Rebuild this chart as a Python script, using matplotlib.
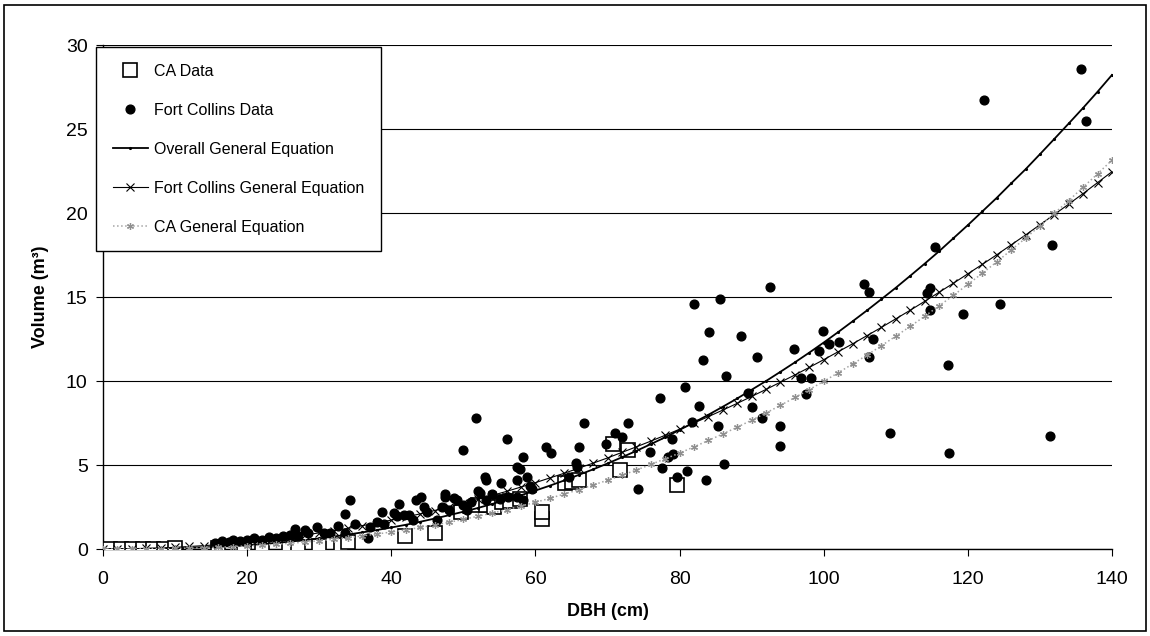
import matplotlib
matplotlib.use("Agg")
import matplotlib.pyplot as plt
from matplotlib.patches import Rectangle

plt.rcParams['font.family'] = ['Liberation Sans', 'DejaVu Sans']

# CA measured trees
ca_dbh = [1, 2.5, 4, 5.5, 7, 8.5, 10, 16, 19.5, 22, 25.8, 27.1, 30, 33, 34,
          41.9, 46, 49.7, 52, 53.2, 54.2, 55.3, 56.5, 57.8, 60.9, 60.9,
          64.1, 65.1, 66, 70.7, 71.8, 72.8, 79.6]
ca_vol = [0.0, 0.0, 0.01, 0.01, 0.02, 0.02, 0.03, 0.05, 0.1, 0.1, 0.1, 0.14, 0.2, 0.25, 0.43,
          0.8, 0.95, 2.2, 2.6, 2.6, 2.5, 2.82, 2.85, 3.0, 1.8, 2.2,
          3.9, 4.0, 4.1, 6.25, 4.7, 5.9, 3.8]

# Fort Collins measured trees
fc_dbh = [15.5, 16.5, 17.5, 18, 19, 20, 21, 22, 23, 24, 25, 26, 26.6, 27, 28, 28.5,
          29.7, 30.6, 31.5, 32.6, 33.6, 33.6, 34.3, 35, 36.7, 37, 38, 38.7, 39,
          40.4, 40.8, 41.1, 41.8, 42.4, 43, 43.4, 44.1, 44.6, 45, 46.3, 47, 47.4,
          47.5, 48, 48.7, 49.1, 49.9, 50, 50.5, 51, 51.7, 52.1, 52.3, 53, 53.2,
          53.2, 54, 55.1, 55.2, 56.1, 56.2, 57.4, 57.9, 57.4, 57.4, 58.3, 58.3,
          58.8, 59.2, 59.5, 61.4, 62.2, 64.6, 65.6, 65.7, 66.1, 66.8, 69.8, 71,
          72, 72.8, 74.2, 75.9, 77.3, 77.6, 78.4, 79, 79.1, 79.6, 80.7, 81, 81.7,
          82, 82.7, 83.3, 83.7, 84.1, 85.4, 85.6, 86.1, 86.4, 88.5, 89.5, 90.1,
          90.8, 91.5, 92.5, 94, 94, 95.9, 96.9, 97.6, 98.2, 99.3, 99.9, 100.7,
          102.1, 105.6, 106.3, 106.3, 106.9, 109.2, 114.3, 114.7, 114.7, 115.5,
          117.3, 117.4, 119.3, 122.3, 124.4, 131.4, 131.7, 135.7, 136.4]
fc_vol = [0.35, 0.45, 0.4, 0.55, 0.5, 0.55, 0.65, 0.55, 0.7, 0.65, 0.75, 0.85, 1.17, 0.8, 1.13, 0.95,
          1.33, 0.93, 0.97, 1.37, 0.93, 2.07, 2.9, 1.5, 0.67, 1.3, 1.6, 2.2, 1.5,
          2.12, 1.96, 2.7, 2.0, 2.0, 1.7, 2.9, 3.1, 2.5, 2.2, 1.73, 2.5, 3.3,
          3.1, 2.3, 3.05, 2.9, 5.9, 2.6, 2.3, 2.8, 7.8, 3.47, 3.35, 4.27, 4.1,
          2.9, 3.3, 2.96, 3.95, 6.55, 3.1, 4.9, 4.75, 4.1, 3.1, 2.9, 5.5,
          4.3, 3.75, 3.55, 6.1, 5.7, 4.3, 5.14, 4.9, 6.05, 7.5, 6.23, 6.9,
          6.65, 7.5, 3.6, 5.8, 8.97, 4.84, 5.5, 6.53, 5.65, 4.27, 9.66, 4.64, 7.54,
          14.6, 8.5, 11.25, 4.1, 12.9, 7.3, 14.9, 5.04, 10.3, 12.7, 9.3, 8.47,
          11.4, 7.78, 15.6, 7.34, 6.13, 11.9, 10.2, 9.2, 10.2, 11.8, 13.0, 12.2,
          12.3, 15.8, 15.3, 11.4, 12.5, 6.9, 15.26, 15.55, 14.2, 18.0,
          10.97, 5.7, 14.0, 26.7, 14.6, 6.7, 18.1, 28.55, 25.5]

# equation curves, read every 2 cm
eq_dbh = list(range(0, 141, 2))
overall_vol = [0.0, 0.0, 0.0, 0.01, 0.02, 0.04, 0.07, 0.1, 0.13, 0.18, 0.23, 0.29, 0.36, 0.44, 0.53,
               0.63, 0.74, 0.86, 0.99, 1.13, 1.28, 1.44, 1.62, 1.81, 2.01, 2.22, 2.44, 2.68,
               2.94, 3.2, 3.48, 3.77, 4.08, 4.41, 4.74, 5.09, 5.46, 5.84, 6.24, 6.65, 7.09,
               7.53, 7.99, 8.47, 8.96, 9.48, 10.0, 10.55, 11.11, 11.69, 12.29, 12.91, 13.55,
               14.2, 14.87, 15.55, 16.26, 16.98, 17.72, 18.5, 19.28, 20.09, 20.9, 21.76,
               22.6, 23.5, 24.41, 25.33, 26.26, 27.22, 28.22]
fc_eq_vol = [0.0, 0.0, 0.02, 0.04, 0.06, 0.1, 0.15, 0.2, 0.26, 0.34, 0.42, 0.51, 0.6, 0.71, 0.83,
             0.96, 1.09, 1.23, 1.39, 1.55, 1.72, 1.9, 2.09, 2.29, 2.5, 2.72, 2.95, 3.19,
             3.43, 3.69, 3.95, 4.23, 4.51, 4.81, 5.11, 5.42, 5.75, 6.08, 6.42, 6.77, 7.13,
             7.5, 7.88, 8.27, 8.67, 9.08, 9.5, 9.93, 10.36, 10.81, 11.27, 11.74, 12.21,
             12.7, 13.19, 13.7, 14.21, 14.74, 15.28, 15.82, 16.38, 16.94, 17.51, 18.1,
             18.69, 19.3, 19.91, 20.53, 21.16, 21.81, 22.46]
ca_eq_vol = [0.0, 0.0, 0.0, 0.01, 0.02, 0.03, 0.05, 0.07, 0.1, 0.14, 0.18, 0.23, 0.28, 0.34, 0.41,
             0.49, 0.58, 0.67, 0.78, 0.89, 1.01, 1.14, 1.28, 1.43, 1.59, 1.76, 1.95, 2.14,
             2.34, 2.56, 2.78, 3.02, 3.27, 3.53, 3.81, 4.09, 4.39, 4.7, 5.03, 5.37, 5.71,
             6.08, 6.46, 6.85, 7.25, 7.67, 8.1, 8.55, 9.02, 9.49, 9.98, 10.49, 11.01,
             11.54, 12.1, 12.67, 13.25, 13.85, 14.47, 15.1, 15.75, 16.41, 17.09, 17.79,
             18.5, 19.24, 19.98, 20.74, 21.54, 22.33, 23.15]

fig = plt.figure(figsize=(11.5, 6.36), dpi=100)
fig.patches.append(Rectangle((4 / 1150, 5 / 636), 1142 / 1150, 626 / 636,
                             transform=fig.transFigure, fill=False,
                             edgecolor='black', linewidth=1.2))

ax = fig.add_axes([103 / 1150, 1 - 549 / 636, 1009 / 1150, 504 / 636])

ax.plot(ca_dbh, ca_vol, linestyle='none', marker='s', markersize=9.5,
        markerfacecolor='white', markeredgecolor='black', markeredgewidth=1.2,
        label='CA Data', zorder=3)
ax.plot(fc_dbh, fc_vol, linestyle='none', marker='o', markersize=6.3,
        color='black', label='Fort Collins Data', zorder=4)
ax.plot(eq_dbh, overall_vol, color='black', linewidth=1.3, marker='.',
        markersize=2.5, label='Overall General Equation', zorder=5)
ax.plot(eq_dbh, fc_eq_vol, color='black', linewidth=0.8, marker='x',
        markersize=6, markeredgewidth=0.8, label='Fort Collins General Equation',
        zorder=5)
ax.plot(eq_dbh, ca_eq_vol, color='#a5a5a5', linewidth=1.1, linestyle=':',
        marker=(6, 2, 0), markersize=5, markeredgewidth=0.9,
        markeredgecolor='#909090', label='CA General Equation', zorder=5)

ax.set_xlim(0, 140)
ax.set_ylim(0, 30)
ax.set_xticks(range(0, 141, 20))
ax.set_yticks(range(0, 31, 5))
ax.yaxis.grid(True, color='black', linewidth=0.8)
ax.set_axisbelow(True)
for s in ['top', 'right']:
    ax.spines[s].set_visible(False)
ax.spines['left'].set_linewidth(1.0)
ax.spines['bottom'].set_linewidth(1.0)
ax.tick_params(axis='x', direction='out', length=5, pad=11, labelsize=14)
ax.tick_params(axis='y', direction='out', length=5, pad=6, labelsize=14)

ax.set_xlabel('DBH (cm)', fontsize=13, fontweight='bold', labelpad=11)
ax.set_ylabel('Volume (m³)', fontsize=13, fontweight='bold', labelpad=12)

leg = ax.legend(loc='upper left', bbox_to_anchor=(96 / 1150, 1 - 47 / 636),
                bbox_transform=fig.transFigure, fontsize=11.5, frameon=True,
                fancybox=False, framealpha=1, edgecolor='black',
                labelspacing=1.5, borderpad=1.05, handlelength=2.2,
                handletextpad=0.4, borderaxespad=0)
leg.get_frame().set_linewidth(1.0)
leg.set_zorder(10)

fig.savefig('out.png', dpi=100)
